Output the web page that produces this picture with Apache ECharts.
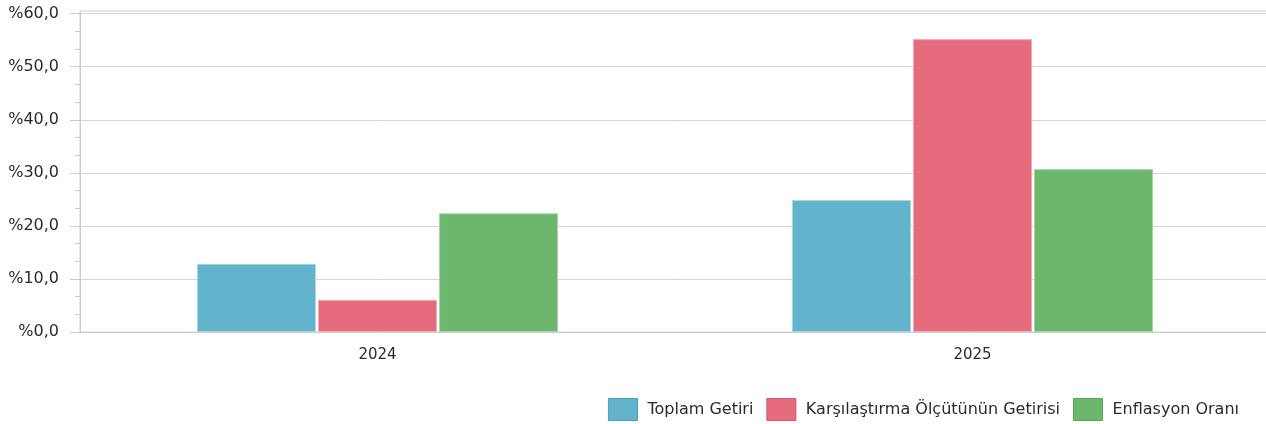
<!DOCTYPE html>
<html>
<head>
<meta charset="utf-8">
<script src="https://cdn.jsdelivr.net/npm/echarts@6/dist/echarts.min.js"></script>
<style>
html,body{margin:0;padding:0;background:#fff;}
#chart{width:1266px;height:424px;}
</style>
</head>
<body>
<div id="chart"></div>
<script>
const categories = ['2024', '2025'];
const seriesNames = ['Toplam Getiri', 'Karşılaştırma Ölçütünün Getirisi', 'Enflasyon Oranı'];
const toplamGetiri = [12.84, 24.86];
const karsilastirma = [6.06, 55.2];
const enflasyon = [22.37, 30.7];
const yTickValues = [0, 10, 20, 30, 40, 50, 60];

const colors = ['#62B3CB', '#E66B7D', '#6DB66D'];
const borderColors = ['#A9D6E4', '#F2AAB5', '#A8D5A8'];
const legendBorders = ['#4E9DB6', '#D15A6C', '#5BA35B'];
const seriesData = [toplamGetiri, karsilastirma, enflasyon];

const chart = echarts.init(document.getElementById('chart'), null, {renderer: 'canvas'});
const font = 'DejaVu Sans';

chart.setOption({
  animation: false,
  backgroundColor: '#ffffff',
  grid: {
    left: 80, width: 1190, top: 11, bottom: 92,
    outerBoundsMode: 'none',
    containLabel: false,
    show: true, borderColor: '#d0d0d0', borderWidth: 1, backgroundColor: 'transparent'
  },
  legend: {
    right: 22, top: 393,
    itemWidth: 29, itemHeight: 22, itemGap: 13,
    icon: 'rect',
    textStyle: {fontFamily: font, fontSize: 16, color: '#2b2b2b', padding: [0, 0, 0, 5]},
    data: seriesNames.map((n, i) => ({name: n, itemStyle: {color: colors[i], borderColor: legendBorders[i], borderWidth: 1}}))
  },
  xAxis: {
    type: 'category',
    data: categories,
    axisLine: {lineStyle: {color: '#cccccc', width: 1}},
    axisTick: {alignWithLabel: true, length: 7, lineStyle: {color: '#cccccc'}},
    axisLabel: {fontFamily: font, fontSize: 15, color: '#2b2b2b', margin: 16},
    splitLine: {show: false}
  },
  yAxis: {
    type: 'value',
    min: 0, max: 60.5, interval: 10,
    axisLine: {show: true, lineStyle: {color: '#cccccc', width: 1}},
    axisTick: {show: true, length: 10, lineStyle: {color: '#cccccc'}, customValues: yTickValues},
    minorTick: {show: true, splitNumber: 3, length: 5, lineStyle: {color: '#cccccc'}},
    axisLabel: {
      fontFamily: font, fontSize: 16, color: '#2b2b2b', margin: 21,
      customValues: yTickValues,
      formatter: v => (v % 10 === 0) ? '%' + v.toFixed(1).replace('.', ',') : ''
    },
    splitLine: {show: true, lineStyle: {color: '#d4d4d4', width: 1}}
  },
  series: seriesNames.map((name, i) => ({
    name: name,
    type: 'bar',
    data: seriesData[i],
    barCategoryGap: '39.3%',
    barGap: '1.7%',
    itemStyle: {color: colors[i], borderColor: borderColors[i], borderWidth: 1}
  }))
});
</script>
</body>
</html>
